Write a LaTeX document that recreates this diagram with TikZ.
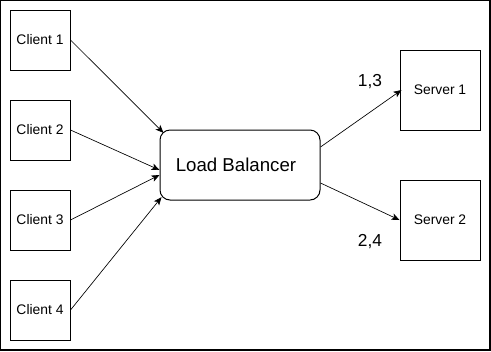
\documentclass[tikz,border=0pt]{standalone}
\usepackage{fontspec}
\setmainfont{Liberation Sans}
\usetikzlibrary{arrows.meta,positioning}
\tikzset{
  clientbox/.style={draw=black,line width=0.75pt,minimum width=45pt,
    minimum height=45pt,inner sep=0pt,align=center,font=\fontsize{10.4}{12}\selectfont},
  serverbox/.style={draw=black,line width=0.75pt,minimum width=60pt,
    minimum height=60pt,inner sep=0pt,align=center,font=\fontsize{10.4}{12}\selectfont},
  balancer/.style={draw=black,line width=0.75pt,rounded corners=7.5pt,
    minimum width=120pt,minimum height=52.5pt,inner sep=0pt,
    align=center,font=\fontsize{14}{17}\selectfont},
  weightlabel/.style={inner sep=0pt,font=\fontsize{13}{15}\selectfont},
  linkarrow/.style={-{Stealth[length=6pt,width=5pt,inset=1.5pt]},
    line width=0.5pt,draw=black},
}

\begin{document}
\begin{tikzpicture}[x=0.75pt,y=-0.75pt]
  \useasboundingbox (0,0) rectangle (491,351);
  \draw[line width=1.1pt] (0.7,0.7) rectangle (489.8,349.8);
  % clients on the left
  \node[clientbox] (client1) at (40,40) {Client 1};
  \node[clientbox] (client2) at (40,130) {Client 2};
  \node[clientbox] (client3) at (40,220) {Client 3};
  \node[clientbox] (client4) at (40,310) {Client 4};
  % balancer and servers
  \node[balancer] (lb) at (240,165) {Load Balancer\hspace*{6pt}};
  \node[serverbox] (server1) at (440,90) {Server 1};
  \node[serverbox] (server2) at (440,220) {Server 2};
  \node[weightlabel] (w13) at (370,82) {1,3};
  \node[weightlabel] (w24) at (370,242) {2,4};
  % requests into the balancer
  \draw[linkarrow] (client1.east) -- ([xshift=3pt,yshift=-2.5pt]lb.north west);
  \draw[linkarrow] (client2.east) -- ([yshift=-3.75pt]lb.west);
  \draw[linkarrow] (client3.east) -- ([yshift=-7.5pt]lb.west);
  \draw[linkarrow] (client4.east) -- ([xshift=1.5pt,yshift=2.5pt]lb.south west);
  % forwarded to the servers
  \draw[linkarrow] ([yshift=13.5pt]lb.east) -- ([xshift=1.5pt]server1.west);
  \draw[linkarrow] ([yshift=-13.5pt]lb.east) -- (server2.west);
\end{tikzpicture}
\end{document}
